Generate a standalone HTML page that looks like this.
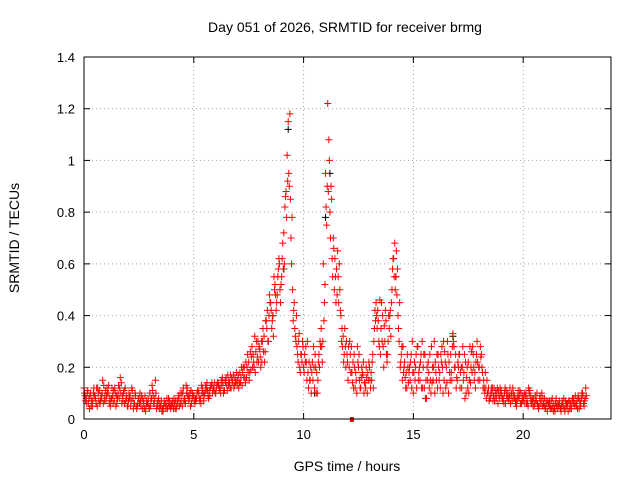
<!DOCTYPE html>
<html><head><meta charset="utf-8"><style>
body{margin:0;background:#fff;}
svg{display:block;font-family:"Liberation Sans",sans-serif;}
</style></head><body>
<svg id="chart" width="640" height="480">
<text x="345" y="32" text-anchor="middle" font-size="14">Day 051 of 2026, SRMTID for receiver brmg</text>
<text x="347" y="471" text-anchor="middle" font-size="14">GPS time / hours</text>
<text transform="translate(19,238) rotate(-90)" text-anchor="middle" font-size="14">SRMTID / TECUs</text>
<g id="grid"></g><g id="ticks"></g><g id="marks"></g>
<rect x="84" y="57" width="527" height="362" fill="none" stroke="#000"/>
</svg>
<script>
const xTicks=[0,5,10,15,20];
const yTicks=[0,0.2,0.4,0.6,0.8,1,1.2,1.4];
const yTickLabels=["0","0.2","0.4","0.6","0.8","1","1.2","1.4"];
const tStartA=0, tStartB=0.05, tStartC=0.025, tStartD=0.075, tStep=0.1;
const seriesA=[0.12,0.08,0.06,0.1,0.07,0.09,0.05,0.11,0.08,0.13,
0.07,0.1,0.05,0.09,0.12,0.06,0.08,0.14,0.1,0.07,
0.05,0.09,0.11,0.06,0.04,0.08,0.05,0.07,0.03,0.06,
0.1,0.13,0.06,0.04,0.08,0.05,0.03,0.06,0.04,0.07,
0.05,0.08,0.04,0.09,0.06,0.1,0.07,0.12,0.08,0.06,
0.09,0.07,0.11,0.08,0.12,0.1,0.14,0.11,0.13,0.12,
0.1,0.14,0.12,0.16,0.11,0.13,0.15,0.12,0.17,0.14,
0.15,0.18,0.13,0.2,0.16,0.22,0.19,0.25,0.18,0.24,
0.27,0.22,0.32,0.38,0.3,0.45,0.4,0.52,0.48,0.6,
0.55,0.72,0.88,1.15,0.85,0.5,0.35,0.28,0.33,0.25,
0.2,0.28,0.18,0.15,0.22,0.12,0.18,0.25,0.35,0.6,
0.95,1.22,0.8,0.62,0.5,0.58,0.45,0.4,0.32,0.28,
0.22,0.3,0.18,0.25,0.15,0.2,0.12,0.17,0.14,0.1,
0.2,0.15,0.3,0.45,0.38,0.25,0.4,0.3,0.22,0.35,
0.45,0.62,0.55,0.4,0.2,0.15,0.22,0.12,0.18,0.25,
0.1,0.2,0.28,0.15,0.3,0.12,0.08,0.18,0.1,0.15,
0.22,0.12,0.18,0.28,0.15,0.2,0.1,0.25,0.33,0.2,
0.15,0.25,0.12,0.18,0.1,0.22,0.14,0.28,0.18,0.3,
0.2,0.25,0.15,0.12,0.1,0.08,0.12,0.07,0.1,0.09,
0.11,0.08,0.06,0.1,0.12,0.07,0.09,0.05,0.08,0.1,
0.07,0.09,0.06,0.11,0.08,0.05,0.07,0.04,0.06,0.08,
0.05,0.03,0.07,0.04,0.06,0.08,0.05,0.04,0.06,0.03,
0.05,0.07,0.04,0.08,0.06,0.09,0.05,0.1,0.07];
const seriesB=[0.09,0.1,0.04,0.07,0.12,0.06,0.1,0.07,0.15,0.09,
0.12,0.06,0.08,0.11,0.05,0.1,0.16,0.09,0.06,0.08,
0.1,0.07,0.04,0.09,0.06,0.1,0.08,0.04,0.07,0.05,
0.07,0.09,0.15,0.05,0.06,0.03,0.07,0.05,0.08,0.04,
0.06,0.04,0.07,0.05,0.1,0.07,0.13,0.09,0.05,0.1,
0.06,0.1,0.08,0.13,0.07,0.11,0.09,0.12,0.1,0.14,
0.13,0.11,0.15,0.1,0.14,0.17,0.12,0.15,0.13,0.18,
0.12,0.16,0.2,0.14,0.25,0.18,0.28,0.2,0.3,0.22,
0.2,0.35,0.26,0.42,0.48,0.35,0.55,0.42,0.58,0.45,
0.68,0.82,1.02,0.9,0.6,0.42,0.3,0.22,0.18,0.3,
0.25,0.15,0.22,0.1,0.28,0.2,0.15,0.3,0.22,0.45,
0.75,1.08,0.9,0.7,0.55,0.65,0.5,0.35,0.25,0.3,
0.28,0.18,0.22,0.12,0.28,0.15,0.2,0.1,0.2,0.15,
0.12,0.25,0.42,0.35,0.28,0.45,0.2,0.38,0.3,0.42,
0.58,0.68,0.48,0.3,0.25,0.18,0.12,0.2,0.15,0.3,
0.22,0.12,0.18,0.25,0.2,0.08,0.15,0.25,0.14,0.3,
0.15,0.2,0.25,0.1,0.22,0.3,0.18,0.15,0.28,0.12,
0.2,0.18,0.28,0.08,0.2,0.15,0.26,0.2,0.22,0.15,
0.28,0.18,0.1,0.15,0.07,0.12,0.09,0.11,0.06,0.12,
0.08,0.1,0.09,0.07,0.09,0.1,0.06,0.09,0.11,0.07,
0.1,0.06,0.12,0.07,0.05,0.09,0.06,0.08,0.1,0.05,
0.07,0.06,0.04,0.05,0.03,0.06,0.07,0.05,0.08,0.05,
0.03,0.06,0.08,0.05,0.07,0.04,0.08,0.06,0.12];
const seriesC=[0.1,0.06,0.08,0.05,0.1,0.08,0.12,0.06,0.1,0.07,
0.09,0.13,0.07,0.06,0.1,0.08,0.12,0.06,0.11,0.09,
0.07,0.05,0.08,0.1,0.05,0.06,0.09,0.06,0.05,0.08,
0.05,0.11,0.08,0.06,0.04,0.07,0.05,0.04,0.06,0.05,
0.07,0.06,0.05,0.08,0.07,0.12,0.06,0.09,0.1,0.08,
0.07,0.08,0.1,0.06,0.1,0.13,0.11,0.09,0.14,0.11,
0.12,0.13,0.1,0.14,0.15,0.11,0.14,0.16,0.12,0.15,
0.17,0.14,0.18,0.16,0.2,0.15,0.24,0.22,0.26,0.3,
0.24,0.3,0.22,0.35,0.4,0.42,0.32,0.48,0.55,0.5,
0.62,0.6,0.78,0.95,0.7,0.38,0.32,0.25,0.2,0.22,
0.18,0.22,0.12,0.2,0.15,0.25,0.1,0.2,0.28,0.38,
0.82,0.88,0.7,0.55,0.62,0.48,0.6,0.3,0.22,0.2,
0.15,0.25,0.14,0.2,0.1,0.25,0.16,0.22,0.12,0.18,
0.15,0.22,0.35,0.4,0.3,0.35,0.28,0.42,0.25,0.4,
0.5,0.55,0.65,0.35,0.22,0.28,0.16,0.25,0.2,0.12,
0.18,0.25,0.15,0.22,0.12,0.25,0.2,0.12,0.28,0.2,
0.18,0.25,0.12,0.2,0.26,0.14,0.22,0.18,0.3,0.25,
0.22,0.12,0.2,0.25,0.16,0.1,0.2,0.25,0.12,0.22,
0.15,0.2,0.12,0.08,0.12,0.1,0.07,0.09,0.12,0.08,
0.09,0.06,0.11,0.08,0.06,0.12,0.08,0.07,0.09,0.06,
0.08,0.1,0.05,0.09,0.07,0.06,0.1,0.05,0.07,0.06,
0.04,0.07,0.05,0.08,0.04,0.05,0.06,0.03,0.05,0.07,
0.06,0.04,0.07,0.06,0.05,0.08,0.06,0.09,0.08];
const seriesD=[0.07,0.11,0.09,0.05,0.09,0.12,0.07,0.09,0.06,0.11,
0.1,0.08,0.12,0.07,0.09,0.13,0.1,0.07,0.12,0.05,
0.08,0.12,0.06,0.05,0.08,0.07,0.04,0.09,0.06,0.04,
0.08,0.06,0.1,0.07,0.05,0.04,0.06,0.08,0.05,0.06,
0.04,0.07,0.06,0.1,0.05,0.08,0.1,0.07,0.11,0.09,
0.08,0.11,0.07,0.1,0.09,0.12,0.08,0.13,0.12,0.1,
0.14,0.12,0.13,0.11,0.16,0.13,0.17,0.14,0.16,0.13,
0.14,0.2,0.16,0.22,0.18,0.26,0.2,0.32,0.22,0.28,
0.3,0.26,0.38,0.3,0.45,0.38,0.5,0.45,0.62,0.52,
0.58,0.86,0.92,1.18,0.78,0.45,0.4,0.3,0.25,0.28,
0.22,0.3,0.15,0.18,0.2,0.1,0.22,0.28,0.3,0.52,
0.9,1.0,0.85,0.66,0.45,0.55,0.42,0.28,0.35,0.25,
0.2,0.28,0.12,0.18,0.22,0.12,0.18,0.14,0.16,0.22,
0.18,0.12,0.38,0.42,0.46,0.3,0.36,0.25,0.4,0.32,
0.62,0.5,0.58,0.45,0.28,0.2,0.18,0.14,0.22,0.18,
0.15,0.28,0.2,0.12,0.25,0.15,0.22,0.15,0.2,0.1,
0.25,0.15,0.22,0.3,0.12,0.25,0.15,0.28,0.2,0.16,
0.25,0.2,0.15,0.22,0.12,0.28,0.18,0.15,0.25,0.2,
0.24,0.12,0.18,0.1,0.08,0.1,0.12,0.08,0.11,0.1,
0.07,0.12,0.08,0.09,0.1,0.08,0.07,0.11,0.06,0.09,
0.06,0.08,0.1,0.06,0.08,0.07,0.05,0.09,0.05,0.08,
0.06,0.05,0.07,0.03,0.06,0.04,0.05,0.07,0.04,0.06,
0.07,0.05,0.06,0.09,0.04,0.07,0.1,0.05,0.09];
const blackTimes=[8.6,9.1,9.3,11.0,11.2,14.2,16.8,10.5];
const blackValues=[0.4,0.58,1.12,0.78,0.95,0.55,0.32,0.1];
const markerTimes=[12.2];
const markerValues=[0];

const NS="http://www.w3.org/2000/svg";
const X0=84,X1=611,Y0=419,Y1=57,XMAX=24,YMAX=1.4;
const sx=t=>X0+(X1-X0)*t/XMAX;
const sy=v=>Y0-(Y0-Y1)*v/YMAX;
function el(tag,attrs,parent){const e=document.createElementNS(NS,tag);for(const k in attrs)e.setAttribute(k,attrs[k]);parent.appendChild(e);return e;}
const grid=document.getElementById('grid'),ticks=document.getElementById('ticks'),marks=document.getElementById('marks');
xTicks.forEach(t=>{
  const x=sx(t);
  if(t>0){const g=el('line',{x1:x,x2:x,y1:Y0,y2:Y1,stroke:'#a0a0a0','stroke-dasharray':'1,3'},grid);
  
  }
  el('line',{x1:x,x2:x,y1:Y0,y2:Y0-6,stroke:'#000'},ticks);
  el('line',{x1:x,x2:x,y1:Y1,y2:Y1+6,stroke:'#000'},ticks);
  const l=el('text',{x:x,y:Y0+20,'text-anchor':'middle','font-size':13},ticks);
  l.textContent=t;
  
  
});
yTicks.forEach((v,i)=>{
  const y=sy(v);
  if(v>0&&v<YMAX){const g=el('line',{x1:X0,x2:X1,y1:y,y2:y,stroke:'#a0a0a0','stroke-dasharray':'1,3'},grid);
  
  }
  el('line',{x1:X0,x2:X0+6,y1:y,y2:y,stroke:'#000'},ticks);
  el('line',{x1:X1,x2:X1-6,y1:y,y2:y,stroke:'#000'},ticks);
  const l=el('text',{x:X0-9,y:y+5,'text-anchor':'end','font-size':13},ticks);
  l.textContent=yTickLabels[i];
  
  
});
function plus(t,v,color){
  const x=sx(t),y=sy(v);
  const p=el('path',{d:`M${x-3.5},${y}h7M${x},${y-3.5}v7`,stroke:color,'stroke-width':1,fill:'none'},marks);
  
  
}
blackValues.forEach((v,i)=>plus(blackTimes[i],v,'#000'));
seriesA.forEach((v,i)=>plus(tStartA+i*tStep,v,'#ff0000'));
seriesB.forEach((v,i)=>plus(tStartB+i*tStep,v,'#ff0000'));
seriesC.forEach((v,i)=>plus(tStartC+i*tStep,v,'#ff0000'));
seriesD.forEach((v,i)=>plus(tStartD+i*tStep,v,'#ff0000'));
markerValues.forEach((v,i)=>{
  const r=el('rect',{x:sx(markerTimes[i])-2,y:sy(v)-2,width:4,height:5,fill:'#ff0000'},marks);
  
  
});
</script>
</body></html>
